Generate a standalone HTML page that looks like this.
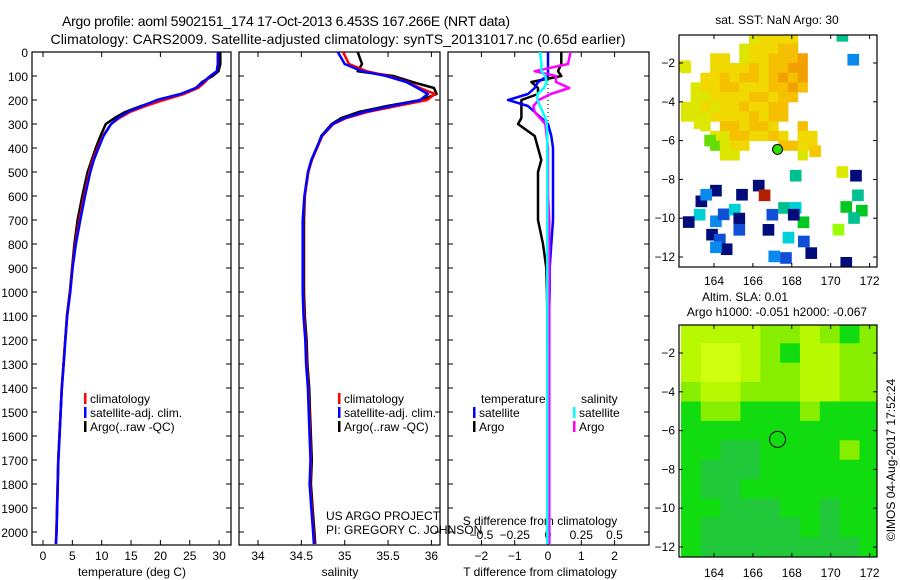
<!DOCTYPE html>
<html><head><meta charset="utf-8">
<style>
html,body{margin:0;padding:0;background:#fff;}
svg{display:block;font-family:"Liberation Sans",sans-serif;}
</style></head>
<body>
<svg id="fig" width="900" height="580" viewBox="0 0 900 580" xmlns="http://www.w3.org/2000/svg">
<defs>
<clipPath id="cT"><rect x="32" y="52" width="199" height="493"/></clipPath>
<clipPath id="cS"><rect x="239" y="52" width="201" height="493"/></clipPath>
<clipPath id="cD"><rect x="448" y="52" width="201" height="493"/></clipPath>
<clipPath id="cM1"><rect x="679" y="35" width="198" height="232"/></clipPath>
<clipPath id="cM2"><rect x="679" y="325" width="198" height="232"/></clipPath>
</defs>
<text x="286" y="26" font-size="14" text-anchor="middle" textLength="448">Argo profile: aoml 5902151_174 17-Oct-2013 6.453S 167.266E (NRT data)</text>
<text x="338" y="44" font-size="14" text-anchor="middle" textLength="575">Climatology: CARS2009. Satellite-adjusted climatology: synTS_20131017.nc (0.65d earlier)</text>
<g id="g"></g>
</svg>
<script>
const depths=[0,50,80,100,125,150,175,200,225,250,275,300,350,400,450,500,600,700,800,900,1000,1100,1200,1300,1400,1500,1600,1700,1800,1900,2000,2050];
const tempClim=[29.8,29.8,29.6,28.5,27.6,26.4,24,20.6,17.5,14.8,13,11.6,10.2,9.3,8.5,7.9,7.0,6.2,5.5,5.0,4.6,4.1,3.8,3.5,3.2,3.0,2.8,2.6,2.5,2.4,2.3,2.2];
const tempSat=[29.8,29.8,29.6,28.5,27.3,26.0,23.4,19.4,16.9,14.4,12.8,11.6,10.3,9.45,8.65,8.05,7.15,6.35,5.6,5.05,4.65,4.13,3.82,3.52,3.22,3.02,2.82,2.62,2.52,2.42,2.32,2.22];
const tempArgo=[30.2,30.2,29.9,28.9,27.1,26.1,23.7,19.8,16.7,14.0,12.2,10.7,9.8,9.0,8.3,7.6,6.7,5.9,5.35,4.95,4.57,4.08,3.78,3.49,3.19,2.99,2.79,2.59,2.49,2.39,2.29,2.19];
const salClim=[34.98,35.05,35.25,35.5,35.72,35.87,36.04,35.95,35.6,35.26,35.02,34.87,34.74,34.68,34.62,34.58,34.54,34.52,34.52,34.52,34.52,34.53,34.55,34.56,34.58,34.59,34.6,34.61,34.6,34.62,34.64,34.65];
const salSat=[34.92,35.0,35.2,35.48,35.71,35.84,35.96,35.87,35.54,35.22,35.0,34.86,34.735,34.675,34.615,34.575,34.535,34.515,34.515,34.515,34.515,34.525,34.545,34.555,34.575,34.585,34.595,34.605,34.595,34.615,34.635,34.645];
const salArgo=[35.15,35.2,35.15,35.56,35.78,36.03,36.06,35.88,35.49,35.16,34.96,34.85,34.73,34.68,34.62,34.58,34.54,34.53,34.53,34.53,34.53,34.54,34.56,34.57,34.59,34.6,34.61,34.62,34.61,34.63,34.65,34.66];
const depthTicks=[0,100,200,300,400,500,600,700,800,900,1000,1100,1200,1300,1400,1500,1600,1700,1800,1900,2000];
const tempTicks=[0,5,10,15,20,25,30];
const salTicks=[34,34.5,35,35.5,36];
const salTickLabels=["34","34.5","35","35.5","36"];
const dTTicks=[-2,-1,0,1,2];
const dSTicks=[-0.5,-0.25,0,0.25,0.5];
const dSTickLabels=["-0.5","-0.25","0","0.25","0.5"];
const lonTicks=[164,166,168,170,172];
const latTicks=[-2,-4,-6,-8,-10,-12];
const sstBlob=[
[0,0,0,0,0,0,0,1,2,2,2,2,0,0],
[0,0,0,0,0,0,1,2,2,2,3,3,0,0],
[0,0,0,2,2,0,1,2,2,3,3,3,4,0],
[1,0,0,2,2,2,2,3,2,3,3,4,4,0],
[0,0,2,2,3,2,3,3,2,3,4,3,4,0],
[0,1,2,2,3,3,2,2,2,3,3,4,3,0],
[0,1,1,2,2,2,2,3,3,2,3,3,0,0],
[1,1,2,1,2,2,3,2,2,3,3,0,0,0],
[1,1,1,2,2,2,2,3,2,3,3,0,0,0],
[0,0,1,0,3,3,2,3,3,2,0,0,3,0],
[0,0,0,1,1,3,3,2,2,3,2,0,2,2],
[0,0,0,5,1,2,2,0,0,0,3,3,2,2],
[0,0,0,0,1,1,0,0,0,0,0,0,1,0]];
const sstLon=[164.1,165.44,166.3,166.6,168.2,171.3,170.6,171.4,170.8,171.6,171.2,170.4,168.6,163.35,163.6,163.26,162.7,164.1,164.5,165.07,165.3,165.3,163.9,164.3,164.65,164.1,166.8,167.0,167.6,168.2,168.1,167.83,168.62,169.0,167.1,167.7,170.8,171.16,170.6,162.5,163.26,163.8,169.2];
const sstLat=[-8.58,-8.79,-8.32,-8.82,-7.81,-7.81,-7.62,-8.82,-9.42,-9.61,-9.99,-10.59,-10.21,-9.13,-8.79,-9.82,-10.2,-10.16,-9.8,-9.56,-10.02,-10.6,-10.85,-11.1,-11.6,-11.5,-10.6,-9.82,-9.47,-9.47,-9.82,-11.0,-11.2,-11.8,-11.97,-12.05,-12.3,-1.83,-0.6,-2.17,-5.1,-6.0,-6.55];
const sstCls=[6,6,6,7,8,6,1,8,9,9,8,10,9,6,11,12,6,11,13,12,6,13,6,13,6,11,6,13,8,12,6,12,13,6,11,13,6,11,8,1,1,5,3];
const slaGrid=[
[3,3,3,3,2,2,3,2,1,2],
[3,4,4,3,2,1,3,3,2,2],
[3,4,4,3,2,2,3,3,2,2],
[2,3,3,2,2,2,3,3,2,2],
[1,2,2,1,1,1,2,1,1,1],
[1,1,1,1,1,1,1,1,1,1],
[1,1,0,0,1,1,1,1,2,1],
[1,0,0,0,1,1,1,1,1,1],
[1,0,0,1,1,1,1,1,1,1],
[1,1,0,0,0,1,1,0,1,1],
[1,0,0,0,0,0,1,0,1,1],
[1,0,0,0,0,0,0,0,0,1]];
const argoLon=167.266, argoLat=-6.453;

const NS='http://www.w3.org/2000/svg';
const G=document.getElementById('g');
function mk(tag,attrs,parent){const e=document.createElementNS(NS,tag);for(const k in attrs)e.setAttribute(k,attrs[k]);(parent||G).appendChild(e);return e;}
const yD=d=>52+d*0.24;
const xT=t=>43+t*5.87;
const xS=s=>258+(s-34)*86.7;
const xdT=v=>548+v*33.3;
const xdS=v=>548+v*133;
const xLon=l=>714+(l-164)*19.45;
const yLat1=l=>63+(-2-l)*19.4;
const yLat2=l=>353+(-2-l)*19.4;

function frame(x,y,w,h,name){const r=mk('rect',{x:x,y:y,width:w,height:h,fill:'none',stroke:'#000','stroke-width':1.2});

}
function txt(x,y,s,size,anchor,name){const t=mk('text',{x:x,y:y,'font-size':size,'text-anchor':anchor||'start'});t.textContent=s;

return t;}
function line(pts,color,w,clip,name){const p=mk('polyline',{points:pts.map(q=>q[0].toFixed(1)+','+q[1].toFixed(1)).join(' '),fill:'none',stroke:color,'stroke-width':w,'stroke-linejoin':'round','clip-path':'url(#'+clip+')'});

}
function tick(x1,y1,x2,y2){mk('line',{x1:x1,y1:y1,x2:x2,y2:y2,stroke:'#000','stroke-width':1});}

const panels=[[32,199],[239,201],[448,201]];
panels.forEach((p,i)=>{frame(p[0],52,p[1],493,['temperature-panel-frame','salinity-panel-frame','difference-panel-frame'][i]);
depthTicks.forEach(d=>{tick(p[0],yD(d),p[0]+5,yD(d));tick(p[0]+p[1],yD(d),p[0]+p[1]-5,yD(d));});});
depthTicks.forEach(d=>txt(28,yD(d)+5,String(d),12,'end','depth-tick-label'));
tempTicks.forEach(t=>{tick(xT(t),545,xT(t),540);if(t%10===0)tick(xT(t),52,xT(t),57);txt(xT(t),560,String(t),12,'middle','temp-tick-label');});
salTicks.forEach((s,i)=>{tick(xS(s),545,xS(s),540);tick(xS(s),52,xS(s),57);txt(xS(s),560,salTickLabels[i],12,'middle','salinity-tick-label');});
dTTicks.forEach(v=>{tick(xdT(v),545,xdT(v),540);if(v!==0)tick(xdT(v),52,xdT(v),57);txt(xdT(v),560,String(v).replace('-','\u2212'),12,'middle','t-diff-tick-label');});
dSTicks.forEach((v,i)=>txt(xdS(v),539,dSTickLabels[i].replace('-','\u2212'),12,'middle','s-diff-tick-label'));
txt(132,576,'temperature (deg C)',12,'middle','temperature-axis-title');
txt(340,576,'salinity',12,'middle','salinity-axis-title');
txt(540,576,'T difference from climatology',12,'middle','t-diff-axis-title');
txt(540,525,'S difference from climatology',12,'middle','s-diff-axis-title');
mk('line',{x1:548,y1:52,x2:548,y2:545,stroke:'#000','stroke-width':1,'stroke-dasharray':'1,3'});

const P=(xf,arr)=>depths.map((d,i)=>[xf(arr[i]),yD(d)]);
line(P(xT,tempArgo),'#000',2.5,'cT','temp-argo-line');
line(P(xT,tempClim),'#f00',2.5,'cT','temp-climatology-line');
line(P(xT,tempSat),'#00f',2.5,'cT','temp-satellite-line');
line(P(xS,salArgo),'#000',2.5,'cS','salinity-argo-line');
line(P(xS,salClim),'#f00',2.5,'cS','salinity-climatology-line');
line(P(xS,salSat),'#00f',2.5,'cS','salinity-satellite-line');
line(depths.map((d,i)=>[xdT(tempArgo[i]-tempClim[i]),yD(d)]),'#000',2.5,'cD','t-diff-argo-line');
line(depths.map((d,i)=>[xdT(tempSat[i]-tempClim[i]),yD(d)]),'#00f',2.5,'cD','t-diff-satellite-line');
line(depths.map((d,i)=>[xdS(salArgo[i]-salClim[i]),yD(d)]),'#f0f',2.5,'cD','s-diff-argo-line');
line(depths.map((d,i)=>[xdS(salSat[i]-salClim[i]),yD(d)]),'#0ff',2.5,'cD','s-diff-satellite-line');

function legend(x,y,items,name){items.forEach((it,i)=>{mk('rect',{x:x,y:y+i*14-10,width:2.5,height:11,fill:it[0]});txt(x+6,y+i*14,it[1],12,'start',name);});}
legend(84,403,[['#f00','climatology'],['#00f','satellite-adj. clim.'],['#000','Argo(..raw -QC)']],'temp-legend-entry');
legend(338,403,[['#f00','climatology'],['#00f','satellite-adj. clim.'],['#000','Argo(..raw -QC)']],'salinity-legend-entry');
txt(481,403,'temperature',12,'start','diff-legend-temperature-heading');
txt(581,403,'salinity',12,'start','diff-legend-salinity-heading');
legend(473,417,[['#00f','satellite'],['#000','Argo']],'diff-legend-temp-entry');
legend(573,417,[['#0ff','satellite'],['#f0f','Argo']],'diff-legend-sal-entry');
txt(326,520,'US ARGO PROJECT',12,'start','project-credit');
txt(326,534,'PI: GREGORY C. JOHNSON',12,'start','pi-credit');

txt(777,24,'sat. SST: NaN Argo: 30',12,'middle','sst-map-title');
const blobCol=['none','#dde600','#f0d800','#f5c000','#f2a000','#66dd00'];
const gM1=mk('g',{'clip-path':'url(#cM1)'});
sstBlob.forEach((row,r)=>row.forEach((v,c)=>{if(!v)return;const lon=162.3+c*0.5,lat=-0.5-r*0.5;
const e=mk('rect',{x:xLon(lon),y:yLat1(lat),width:0.5*19.45+0.5,height:0.5*19.4+0.5,fill:blobCol[v]},gM1);

}));
const sqCol=['','#dde800','','#f5c800','','#66dd00','#000c7a','#b02000','#00c090','#00c820','#99ff00','#0a8aee','#00d0d8','#1050d8'];
sstLon.forEach((lon,i)=>{const e=mk('rect',{x:xLon(lon-0.3),y:yLat1(sstLat[i]+0.3),width:0.6*19.45,height:0.6*19.4,fill:sqCol[sstCls[i]]},gM1);

});
const c1=mk('circle',{cx:xLon(argoLon),cy:yLat1(argoLat),r:5,fill:'#33dd00',stroke:'#000','stroke-width':1});


frame(679,35,198,232,'sst-map-frame');

txt(745,301,'Altim. SLA: 0.01',12,'middle','sla-map-title');
txt(777,316,'Argo h1000: -0.051 h2000: -0.067',12,'middle','sla-map-subtitle');
const slaCol=['#20c83a','#10dc10','#88ee00','#b8f800','#d0ff10'];
const gM2=mk('g',{'clip-path':'url(#cM2)'});
slaGrid.forEach((row,r)=>row.forEach((v,c)=>{const lon=162.3+c*1.02,lat=-0.5-r*1;
const e=mk('rect',{x:xLon(lon),y:yLat2(lat),width:1.02*19.45+0.5,height:19.9,fill:slaCol[v]},gM2);

}));
const c2=mk('circle',{cx:xLon(argoLon),cy:yLat2(argoLat),r:8,fill:'none',stroke:'#000','stroke-width':1});


frame(679,325,198,232,'sla-map-frame');

[[35,267,yLat1,285],[325,557,yLat2,577]].forEach(m=>{
lonTicks.forEach(l=>{tick(xLon(l),m[0],xLon(l),m[0]+4);tick(xLon(l),m[1],xLon(l),m[1]-4);txt(xLon(l),m[3],String(l),12,'middle','lon-tick-label');});
latTicks.forEach(l=>{const y=m[2](l);tick(877,y,873,y);tick(679,y,683,y);txt(675,y+4,String(l).replace('-','\u2212'),12,'end','lat-tick-label');});});

const cr=txt(0,0,'\u00a9IMOS 04-Aug-2017 17:52:24',12,'middle','imos-timestamp');
cr.setAttribute('transform','translate(895,460) rotate(-90)');
</script>
</body></html>
